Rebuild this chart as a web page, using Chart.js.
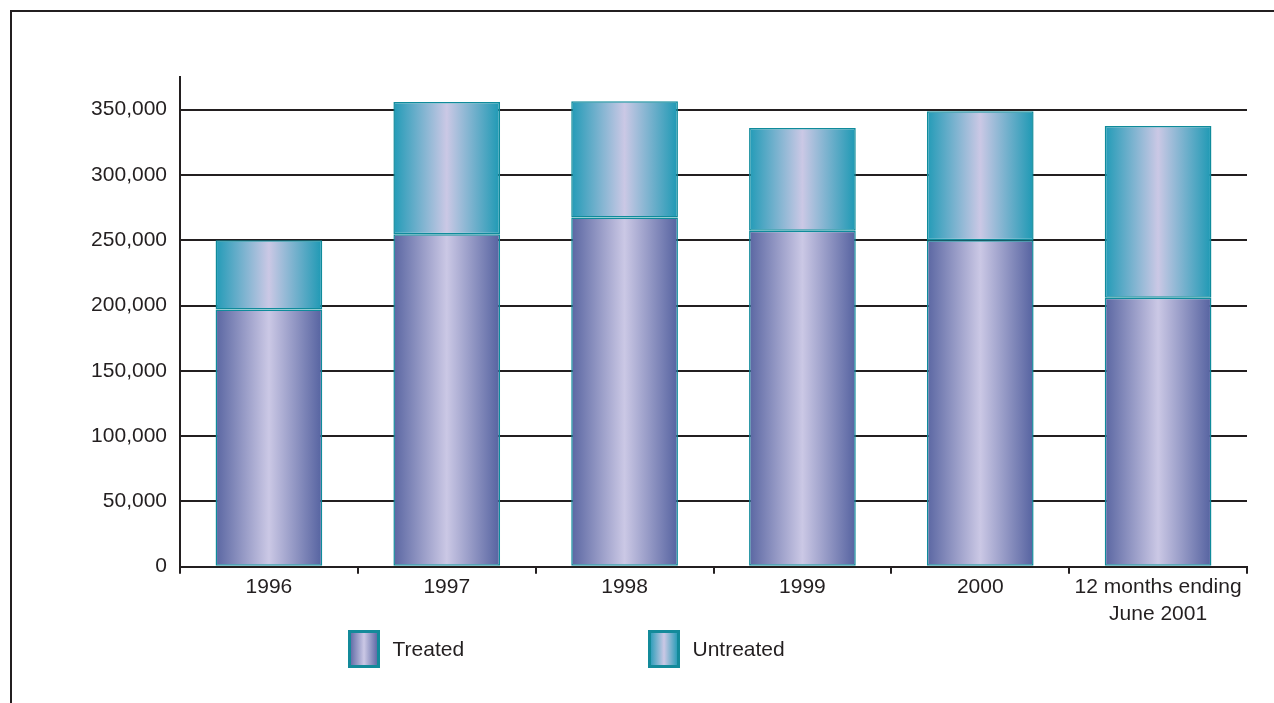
<!DOCTYPE html>
<html><head><meta charset="utf-8">
<script src="https://cdn.jsdelivr.net/npm/chart.js@4/dist/chart.umd.min.js"></script>
<style>html,body{margin:0;padding:0;background:#fff;overflow:hidden;}</style>
</head><body>
<canvas id="c" width="1274" height="703" style="display:block;width:1274px;height:703px"></canvas>
<script>
// ---- data ----
const categories = ['1996', '1997', '1998', '1999', '2000', ['12 months ending', 'June 2001']];
const treated = [197000, 254500, 267500, 257300, 250000, 206000];
const untreated = [53000, 101300, 89000, 78600, 98700, 131400];
const seriesNames = ['Treated', 'Untreated'];
const yTickValues = [0, 50000, 100000, 150000, 200000, 250000, 300000, 350000];

// ---- styles ----
const FONT = "'Liberation Sans', Arial, sans-serif";
const INK = '#231f20';
const EDGE = '#0f8b9b';
const treatedStops = ['#5a66a2', '#cbc8e5', '#5562a0'];
const untreatedStops = ['#229bb7', '#cbc8e5', '#1d99b4'];
const BAR_FRAC = 0.6;

function fillGrad(c, x0, x1, stops) {
  const g = c.createLinearGradient(x0, 0, x1, 0);
  g.addColorStop(0, stops[0]);
  g.addColorStop(0.5, stops[1]);
  g.addColorStop(1, stops[2]);
  return g;
}
function barGrad(stops) {
  return function (ctx) {
    const chart = ctx.chart;
    const area = chart.chartArea;
    const xs = chart.scales && chart.scales.x;
    if (!area || !xs || ctx.dataIndex === undefined) return stops[0];
    const cx = xs.getPixelForValue(ctx.dataIndex);
    const w = (area.right - area.left) / categories.length * BAR_FRAC;
    return fillGrad(chart.ctx, cx - w / 2, cx + w / 2, stops);
  };
}

const framePlugin = {
  id: 'frameAndLegend',
  afterDraw(chart) {
    const c = chart.ctx;
    c.save();
    // outer frame (top and left)
    c.strokeStyle = INK;
    c.lineWidth = 2;
    c.beginPath();
    c.moveTo(11, 703);
    c.lineTo(11, 11);
    c.lineTo(1274, 11);
    c.stroke();
    // legend
    const items = [
      { name: seriesNames[0], stops: treatedStops, x: 349.5 },
      { name: seriesNames[1], stops: untreatedStops, x: 649.5 }
    ];
    const y = 631.5, w = 29, h = 35;
    items.forEach(it => {
      c.fillStyle = fillGrad(c, it.x, it.x + w, it.stops);
      c.fillRect(it.x, y, w, h);
      c.strokeStyle = '#138a9a';
      c.lineWidth = 3;
      c.strokeRect(it.x, y, w, h);
      c.fillStyle = INK;
      c.font = '21px ' + FONT;
      c.textBaseline = 'middle';
      c.textAlign = 'left';
      c.fillText(it.name, it.x + w + 14, y + h / 2 + 1);
    });
    c.restore();
  }
};

new Chart(document.getElementById('c'), {
  type: 'bar',
  data: {
    labels: categories,
    datasets: [
      { label: seriesNames[0], data: treated, backgroundColor: barGrad(treatedStops),
        borderColor: EDGE, borderWidth: 1.5, borderSkipped: false, inflateAmount: 0 },
      { label: seriesNames[1], data: untreated, backgroundColor: barGrad(untreatedStops),
        borderColor: EDGE, borderWidth: 1.5, borderSkipped: false, inflateAmount: 0 }
    ]
  },
  options: {
    responsive: false,
    animation: false,
    devicePixelRatio: 1,
    datasets: { bar: { barPercentage: BAR_FRAC, categoryPercentage: 1.0 } },
    layout: { padding: { top: 77, right: 27, left: 0, bottom: 0 } },
    plugins: { legend: { display: false }, tooltip: { enabled: false }, title: { display: false } },
    scales: {
      x: {
        stacked: true,
        offset: true,
        afterFit(s) { s.height = 136.3; },
        grid: { offset: true, drawOnChartArea: false, drawTicks: true, tickLength: 7, color: INK, lineWidth: 2 },
        border: { display: true, color: INK, width: 2 },
        ticks: { color: INK, padding: 0, maxRotation: 0, autoSkip: false,
          font: { family: FONT, size: 21, lineHeight: 1.3 } }
      },
      y: {
        stacked: true,
        min: 0,
        max: 375000,
        afterFit(s) { s.width = 180; },
        afterBuildTicks(s) { s.ticks = yTickValues.map(v => ({ value: v })); },
        grid: { drawTicks: false, color: INK, lineWidth: 2 },
        border: { display: true, color: INK, width: 2 },
        ticks: { color: INK, padding: 13, stepSize: 50000,
          font: { family: FONT, size: 21 },
          callback: v => v.toLocaleString('en-US') }
      }
    }
  },
  plugins: [framePlugin]
});
</script>
</body></html>
